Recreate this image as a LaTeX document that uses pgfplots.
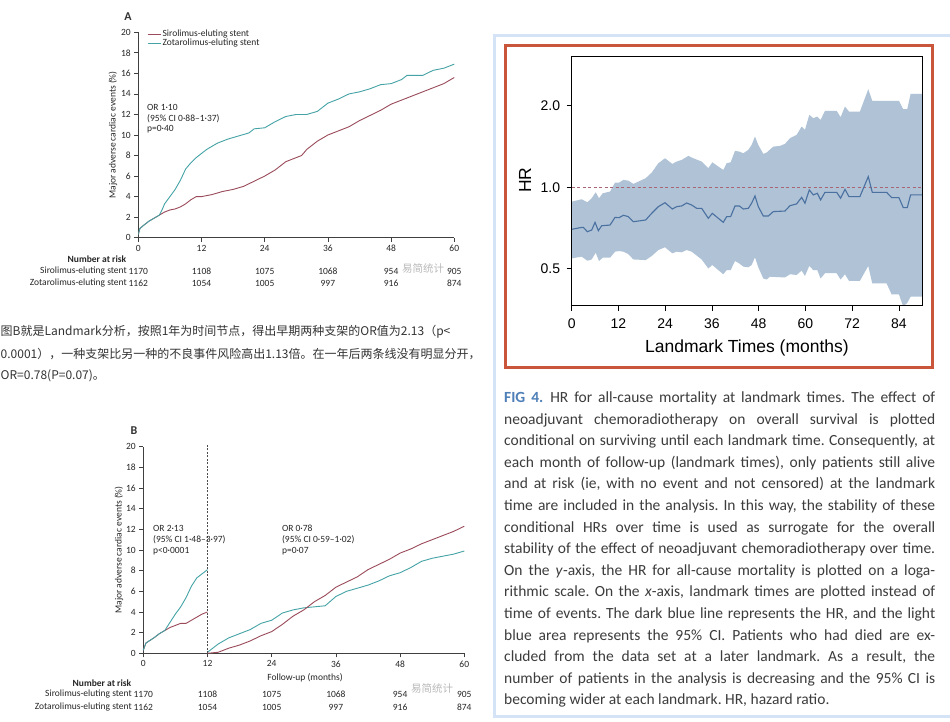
\documentclass[border=0pt]{standalone}
\usepackage{pgfplots}
\pgfplotsset{compat=1.18}
\usepackage{fontspec}
\setmainfont{Carlito}
\newfontfamily\cjk{Noto Sans CJK SC}
\newfontfamily\lib{Liberation Sans}
\definecolor{siro}{HTML}{9A4A5A}
\definecolor{zota}{HTML}{45A3A6}
\definecolor{band}{HTML}{AFC2D6}
\definecolor{hrline}{HTML}{4A71A0}
\definecolor{frame}{HTML}{C9553A}
\definecolor{panelb}{HTML}{D5E3F6}
\definecolor{figblue}{HTML}{4F7FB8}
\definecolor{txt}{HTML}{333333}
\definecolor{cap}{HTML}{3C3C3C}
\newcommand{\sm}{\fontsize{9.5}{10.5}\selectfont}
\frenchspacing
\begin{document}
\frenchspacing
\begin{tikzpicture}
\path[use as bounding box] (0pt,0pt) rectangle (950pt,722pt);
\clip (0pt,0pt) rectangle (950pt,722pt);
\fill[white] (0pt,0pt) rectangle (950pt,722pt);
\pgfplotsset{km/.style={
  scale only axis, anchor=south west,
  xmin=0, xmax=60, ymin=0, ymax=20,
  axis x line=bottom, axis y line=left,
  axis line style={-, line width=0.7pt, black!75},
  xtick={0,12,...,60}, ytick={0,2,...,20},
  tick align=outside, major tick length=4pt,
  tick style={line width=0.7pt, black!75},
  ticklabel style={font=\sm, text=black!85},
  /pgf/number format/assume math mode=true,
  label style={font=\sm, text=black!85},
}}
% ---------------- Panel A
\begin{axis}[km, at={(138.3pt,484.3pt)}, width=316pt, height=205.4pt,
  ylabel={Major adverse cardiac events (\%)},
  ylabel style={at={(axis description cs:-0.080,0.5)}, anchor=center},
  legend style={at={(axis description cs:0.0275,1.018)}, anchor=north west, draw=none, fill=none,
    font=\sm, text=black!85, inner sep=0pt, row sep=-2pt, nodes={inner sep=1.5pt}},
  legend cell align=left,
  legend image code/.code={\draw[#1] (0pt,0pt) -- (13pt,0pt);},
]
\addplot[siro, line width=0.9pt] coordinates {(0,0.3)(0.3,0.9)(1,1.2)(2,1.6)(3,1.9)(4,2.2)(5,2.5)(6,2.7)(7,2.8)(8,3.0)(9,3.3)(10,3.7)(11,4.0)(12,4.0)(14,4.2)(16,4.5)(18,4.7)(20,5.0)(22,5.5)(24,6.0)(26,6.6)(28,7.4)(30,7.8)(31,8.0)(32,8.6)(34,9.4)(36,10.0)(38,10.4)(40,10.8)(42,11.4)(44,11.9)(46,12.4)(48,13.0)(50,13.4)(52,13.8)(54,14.2)(56,14.6)(58,15.0)(60,15.6)};
\addlegendentry{Sirolimus-eluting stent}
\addplot[zota, line width=0.9pt] coordinates {(0,0.3)(0.3,0.9)(1,1.2)(2,1.6)(3,1.9)(4,2.2)(4.5,2.7)(5,3.3)(6,4.0)(7,4.7)(8,5.6)(9,6.7)(10,7.3)(11,7.8)(12,8.2)(13,8.6)(14,8.9)(15,9.2)(17,9.6)(19,9.9)(21,10.2)(22,10.6)(24,10.7)(26,11.3)(28,11.8)(30,12.0)(32,12.0)(34,12.3)(35,12.7)(36,13.1)(38,13.5)(40,14.0)(42,14.2)(44,14.5)(46,14.9)(48,15.0)(50,15.4)(51,15.8)(54,15.8)(56,16.3)(58,16.5)(60,16.9)};
\addlegendentry{Zotarolimus-eluting stent}
\node[anchor=west, font=\sm, text=black!85, inner sep=0pt] at (axis cs:1.65,12.70) {OR 1·10};
\node[anchor=west, font=\sm, text=black!85, inner sep=0pt] at (axis cs:1.65,11.63) {(95\% CI 0·88–1·37)};
\node[anchor=west, font=\sm, text=black!85, inner sep=0pt] at (axis cs:1.65,10.56) {p=0·40};
\end{axis}
\node[font=\bfseries\fontsize{12}{12}\selectfont, text=black!80] at (128pt,705pt) {A};
\begin{scope}[every node/.style={font=\sm, text=black!85, inner sep=0pt}]
\node at (97pt,463pt) {\bfseries Number at risk};
\node[anchor=east] at (127pt,451pt) {Sirolimus-eluting stent};
\node[anchor=east] at (127pt,439pt) {Zotarolimus-eluting stent};
\node at (138.3pt,451pt) {1170}; \node at (201.5pt,451pt) {1108}; \node at (264.7pt,451pt) {1075};
\node at (327.9pt,451pt) {1068}; \node at (391.1pt,451pt) {954}; \node at (454.3pt,451pt) {905};
\node at (138.3pt,439pt) {1162}; \node at (201.5pt,439pt) {1054}; \node at (264.7pt,439pt) {1005};
\node at (327.9pt,439pt) {997}; \node at (391.1pt,439pt) {916}; \node at (454.3pt,439pt) {874};
\end{scope}
\node[font=\cjk\fontsize{10.5}{11}\selectfont, text=gray!55, anchor=west, inner sep=0pt] at (402pt,453pt) {易简统计};
% ---------------- Panel B
\begin{axis}[km, at={(143.3pt,68.7pt)}, width=321pt, height=206.6pt,
  ylabel={Major adverse cardiac events (\%)},
  ylabel style={at={(axis description cs:-0.0757,0.5)}, anchor=center},
  xlabel={Follow-up (months)},
  xlabel style={at={(axis description cs:0.504,-0.1196)}, anchor=center},
  clip=false,
]
\addplot[siro, line width=0.9pt] coordinates {(0,0.3)(0.5,1.0)(2,1.5)(3,1.9)(4,2.2)(5,2.5)(6,2.7)(7,2.9)(8,2.9)(9,3.2)(10,3.5)(11,3.8)(12,4.0)};
\addplot[zota, line width=0.9pt] coordinates {(0,0.3)(0.5,1.0)(2,1.5)(3,1.9)(4,2.2)(5,3.0)(6,3.8)(7,4.5)(8,5.4)(9,6.5)(10,7.3)(11,7.7)(12,8.1)};
\addplot[zota, line width=0.9pt] coordinates {(12,0.1)(13,0.5)(14,0.9)(16,1.5)(18,1.9)(20,2.3)(22,2.9)(24,3.2)(26,3.9)(28,4.2)(30,4.4)(32,4.5)(34,4.6)(36,5.5)(38,6.0)(40,6.3)(42,6.6)(44,7.0)(46,7.5)(48,7.8)(50,8.3)(52,8.9)(54,9.2)(56,9.4)(58,9.6)(60,9.9)};
\addplot[siro, line width=0.9pt] coordinates {(12,0)(14,0.1)(16,0.5)(18,0.8)(20,1.2)(22,1.7)(24,2.1)(26,2.8)(28,3.6)(30,4.2)(32,5.0)(34,5.6)(36,6.4)(38,6.9)(40,7.4)(42,8.1)(44,8.6)(46,9.1)(48,9.7)(50,10.1)(52,10.6)(54,11.0)(56,11.4)(58,11.8)(60,12.3)};
\draw[black!70, line width=0.6pt, dash pattern=on 2pt off 1.5pt] (axis cs:12,0) -- (axis cs:12,20.2);
\node[anchor=west, font=\sm, text=black!85, inner sep=0pt] at (axis cs:1.81,12.13) {OR 2·13};
\node[anchor=west, font=\sm, text=black!85, inner sep=0pt] at (axis cs:1.81,10.97) {(95\% CI 1·48–3·97)};
\node[anchor=west, font=\sm, text=black!85, inner sep=0pt] at (axis cs:1.81,9.90) {p<0·0001};
\node[anchor=west, font=\sm, text=black!85, inner sep=0pt] at (axis cs:25.9,12.13) {OR 0·78};
\node[anchor=west, font=\sm, text=black!85, inner sep=0pt] at (axis cs:25.9,10.97) {(95\% CI 0·59–1·02)};
\node[anchor=west, font=\sm, text=black!85, inner sep=0pt] at (axis cs:25.9,9.90) {p=0·07};
\end{axis}
\node[font=\bfseries\fontsize{12}{12}\selectfont, text=black!80] at (134pt,291pt) {B};
\begin{scope}[every node/.style={font=\sm, text=black!85, inner sep=0pt}]
\node at (102pt,39pt) {\bfseries Number at risk};
\node[anchor=east] at (132pt,28pt) {Sirolimus-eluting stent};
\node[anchor=east] at (132pt,15pt) {Zotarolimus-eluting stent};
\node at (143.3pt,28pt) {1170}; \node at (207.5pt,28pt) {1108}; \node at (271.7pt,28pt) {1075};
\node at (335.9pt,28pt) {1068}; \node at (400.1pt,28pt) {954}; \node at (464.3pt,28pt) {905};
\node at (143.3pt,15pt) {1162}; \node at (207.5pt,15pt) {1054}; \node at (271.7pt,15pt) {1005};
\node at (335.9pt,15pt) {997}; \node at (400.1pt,15pt) {916}; \node at (464.3pt,15pt) {874};
\end{scope}
\node[font=\cjk\fontsize{10.5}{11}\selectfont, text=gray!55, anchor=west, inner sep=0pt] at (411pt,33pt) {易简统计};
% ---------------- Chinese text
\begin{scope}[every node/.style={anchor=west, inner sep=0pt, font=\cjk\fontsize{12}{14}\selectfont, text=txt}]
\node at (0.5pt,390pt) {图B就是Landmark分析，按照1年为时间节点，得出早期两种支架的OR值为2.13（p<};
\node at (0.5pt,368pt) {0.0001），一种支架比另一种的不良事件风险高出1.13倍。在一年后两条线没有明显分开，};
\node at (0.5pt,346pt) {OR=0.78(P=0.07)。};
\end{scope}
% ---------------- Right panel
\draw[panelb, line width=3pt, fill=white] (494.5pt,686.5pt) rectangle (962pt,5.5pt);
\draw[frame, line width=3pt] (505.5pt,676.5pt) rectangle (932.5pt,354.5pt);
\begin{axis}[at={(571.7pt,416pt)}, anchor=south west, scale only axis, width=350.6pt, height=249.3pt,
  xmin=0, xmax=90, ymode=log, log basis y=2, ymin=0.364, ymax=3.04,
  xtick={0,12,...,84}, ytick={0.5,1,2}, yticklabels={0.5,1.0,2.0},
  xtick pos=left, ytick pos=left, tick align=outside, major tick length=5pt,
  axis line style={line width=1pt, black}, tick style={line width=0.8pt, black},
  ticklabel style={font=\lib\fontsize{14}{14}\selectfont},
  xticklabel style={yshift=-4pt}, yticklabel style={xshift=-3pt},
  /pgf/number format/assume math mode=true,
  xlabel={Landmark Times (months)},
  xlabel style={at={(axis description cs:0.5,-0.168)}, anchor=center, font=\lib\fontsize{17.5}{18}\selectfont},
  ylabel={HR},
  ylabel style={at={(axis description cs:-0.133,0.505)}, anchor=center, font=\lib\fontsize{17.5}{18}\selectfont},
  axis on top,
]
\addplot[fill=band, draw=none] coordinates {(0,0.885)(2.57,0.903)(4.02,0.880)(5.13,0.911)(6.16,0.958)(7.01,0.911)(7.96,0.950)(9.84,0.964)(11.12,1.040)(12.15,1.040)(13.26,1.065)(14.54,1.058)(15.83,1.029)(18.99,1.080)(20.53,1.133)(22.24,1.227)(23.95,1.280)(25.83,1.220)(26.95,1.245)(28.23,1.262)(29.94,1.306)(31.22,1.280)(33.36,1.245)(35.07,1.176)(36.10,1.237)(37.64,1.193)(38.92,1.159)(39.78,1.227)(40.80,1.237)(41.92,1.363)(43.03,1.355)(44.05,1.336)(45.34,1.375)(46.19,1.434)(47.05,1.540)(47.90,1.434)(49.19,1.329)(50.04,1.344)(51.75,1.414)(53.46,1.422)(54.75,1.447)(56.03,1.518)(57.74,1.562)(59.03,1.677)(59.88,1.630)(60.99,1.852)(62.02,1.801)(63.05,1.826)(63.90,1.775)(65.01,1.917)(68.01,1.917)(69.03,1.816)(70.15,1.989)(71.17,1.906)(73.99,1.906)(76.13,2.305)(77.16,2.087)(80.84,2.087)(84.00,2.087)(85.11,1.944)(86.14,1.944)(87.00,2.215)(90,2.215)
(90,0.394)(87.00,0.394)(86.14,0.374)(85.11,0.362)(84.00,0.402)(82.12,0.402)(80.84,0.441)(77.16,0.441)(76.13,0.512)(73.99,0.451)(71.17,0.451)(70.15,0.477)(69.03,0.456)(68.01,0.481)(65.01,0.481)(63.90,0.460)(63.05,0.494)(62.02,0.494)(60.99,0.512)(59.88,0.470)(59.03,0.492)(57.74,0.474)(56.03,0.477)(54.75,0.464)(50.90,0.467)(50.04,0.456)(49.19,0.460)(47.90,0.506)(47.05,0.551)(46.19,0.516)(45.34,0.506)(44.05,0.509)(43.03,0.523)(41.92,0.534)(40.80,0.494)(39.78,0.494)(38.92,0.477)(37.64,0.494)(36.10,0.516)(35.07,0.501)(33.36,0.541)(30.80,0.578)(29.51,0.586)(28.23,0.575)(26.95,0.578)(25.83,0.570)(23.95,0.600)(22.24,0.586)(20.53,0.557)(18.99,0.538)(15.83,0.541)(14.54,0.566)(13.26,0.578)(12.15,0.581)(11.12,0.578)(9.84,0.549)(7.96,0.549)(7.01,0.534)(6.16,0.573)(5.13,0.541)(4.02,0.535)(2.57,0.554)(0,0.546)} -- cycle;
\addplot[siro!85, line width=0.6pt, dash pattern=on 3pt off 2.5pt] coordinates {(0,1)(90,1)};
\addplot[hrline, line width=1.1pt] coordinates {(0,0.699)(2.14,0.709)(2.99,0.711)(4.02,0.685)(5.13,0.695)(5.99,0.742)(6.84,0.691)(7.70,0.721)(9.84,0.725)(11.12,0.774)(12.15,0.772)(13.26,0.788)(14.54,0.779)(15.83,0.746)(18.99,0.757)(20.53,0.801)(22.24,0.848)(23.95,0.877)(25.83,0.831)(26.95,0.848)(28.23,0.853)(29.51,0.875)(30.80,0.860)(32.08,0.836)(33.36,0.836)(35.07,0.768)(36.10,0.801)(37.64,0.768)(38.92,0.742)(39.78,0.779)(40.80,0.779)(41.92,0.853)(43.03,0.853)(44.05,0.831)(45.34,0.836)(46.19,0.873)(47.05,0.929)(47.90,0.848)(49.19,0.783)(50.47,0.783)(51.75,0.813)(54.75,0.817)(56.03,0.855)(57.74,0.868)(59.03,0.918)(59.88,0.873)(60.99,0.978)(62.02,0.937)(63.05,0.950)(63.90,0.898)(65.01,0.958)(68.01,0.958)(69.03,0.911)(70.15,0.983)(71.17,0.924)(73.99,0.924)(76.13,1.095)(77.16,0.958)(80.84,0.958)(82.12,0.916)(84.00,0.916)(85.11,0.841)(86.14,0.841)(87.00,0.937)(90,0.937)};
\end{axis}
% ---------------- Caption
\begin{scope}[every node/.style={anchor=base west, inner sep=0pt, font=\fontsize{15.5}{18}\selectfont\frenchspacing, text=cap}]
\node at (504pt,319.5pt) {\makebox[431pt][s]{{\bfseries\color{figblue}FIG 4.}\hspace{7pt}HR for all-cause mortality at landmark times. The effect of}};
\node at (504pt,297.9pt) {\makebox[431pt][s]{neoadjuvant chemoradiotherapy on overall survival is plotted}};
\node at (504pt,276.3pt) {\makebox[431pt][s]{conditional on surviving until each landmark time. Consequently, at}};
\node at (504pt,254.7pt) {\makebox[431pt][s]{each month of follow-up (landmark times), only patients still alive}};
\node at (504pt,233.1pt) {\makebox[431pt][s]{and at risk (ie, with no event and not censored) at the landmark}};
\node at (504pt,211.5pt) {\makebox[431pt][s]{time are included in the analysis. In this way, the stability of these}};
\node at (504pt,189.9pt) {\makebox[431pt][s]{conditional HRs over time is used as surrogate for the overall}};
\node at (504pt,168.3pt) {\makebox[431pt][s]{stability of the effect of neoadjuvant chemoradiotherapy over time.}};
\node at (504pt,146.7pt) {\makebox[431pt][s]{On the \textit{y}-axis, the HR for all-cause mortality is plotted on a loga-}};
\node at (504pt,125.1pt) {\makebox[431pt][s]{rithmic scale. On the \textit{x}-axis, landmark times are plotted instead of}};
\node at (504pt,103.5pt) {\makebox[431pt][s]{time of events. The dark blue line represents the HR, and the light}};
\node at (504pt,81.9pt) {\makebox[431pt][s]{blue area represents the 95\% CI. Patients who had died are ex-}};
\node at (504pt,60.3pt) {\makebox[431pt][s]{cluded from the data set at a later landmark. As a result, the}};
\node at (504pt,38.7pt) {\makebox[431pt][s]{number of patients in the analysis is decreasing and the 95\% CI is}};
\node at (504pt,17.1pt) {becoming wider at each landmark. HR, hazard ratio.};
\end{scope}
\end{tikzpicture}
\end{document}
